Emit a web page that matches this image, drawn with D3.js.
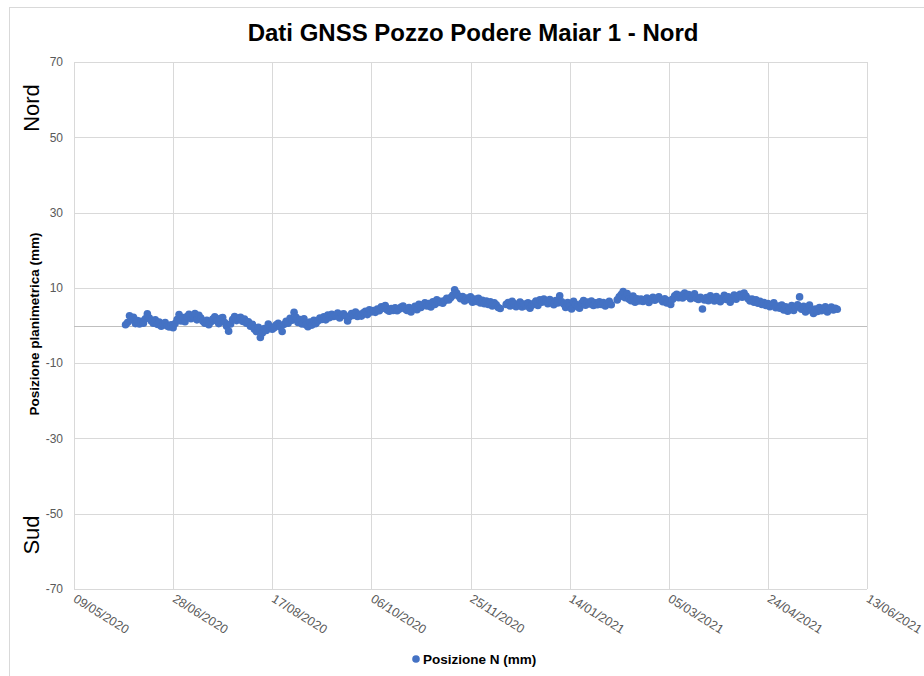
<!DOCTYPE html>
<html>
<head>
<meta charset="utf-8">
<script src="https://d3js.org/d3.v7.min.js"></script>
<style>
  body { margin: 0; background: #fff; }
  svg { font-family: "Liberation Sans", Arial, sans-serif; }
</style>
</head>
<body>
<svg id="chart" width="924" height="676"></svg>
<script>

// serie giornaliera, primo giorno = 04/06/2020 (null = nessun dato)
var startDate = "2020-06-04";
var posN = [
  0.2, 0.8, 2.6, 1.5, 2.2, 0.5, 1.3, 0.4, 1.1, 0.6,
  1.8, 3.1, 2.0, 1.2, 0.6, 1.5, 0.3, 0.9, -0.2, 0.4,
  0.8, -0.1, -0.4, 0.2, -0.6, 0.5, 1.6, 2.9, 1.2, 2.1,
  1.0, 2.4, 3.0, 1.8, 2.6, 3.2, 1.5, 2.7, 2.0, 1.1,
  0.6, 1.4, 0.2, 0.9, 1.7, 2.3, 1.2, 0.5, 1.9, 2.1,
  0.8, -0.2, -1.5, 0.4, 1.6, 2.4, 1.3, 2.0, 2.2, 1.1,
  1.7, 0.6, 1.0, -0.2, 0.3, -1.0, -1.6, -0.5, -3.2, -2.0,
  -0.8, -1.3, 0.4, -0.3, -1.0, -0.6, 0.2, 0.6, -0.4, -1.6,
  0.3, 1.1, 0.6, 1.9, 1.4, 3.5, 2.2, 0.8, 1.6, 0.4,
  1.8, 0.2, -0.3, 0.9, 0.1, 1.4, 0.5, 1.2, 2.0, 1.6,
  2.3, 1.5, 2.8, 2.1, 3.0, 2.4, 2.6, 3.3, 2.0, 2.9,
  3.1, 2.5, 1.2, 2.3, 3.2, 2.7, 3.6, 2.4, 3.0, 2.5,
  3.4, 3.8, 2.9, 4.2, 3.6, 4.0, 3.5, 4.4, 3.9, 5.0,
  4.6, 5.3, 4.1, 3.8, 4.5, 4.0, 4.7, 3.9, 4.3, 4.9,
  5.2, 4.4, 4.0, 4.8, 3.6, 4.5, 5.1, 4.2, 5.6, 4.8,
  5.4, 6.0, 5.2, 5.8, 4.9, 6.3, 5.6, 6.8, 6.1, 6.4,
  5.9, 6.6, 7.2, 6.8, 7.4, 8.0, 9.5, 8.6, 7.8, 7.1,
  7.7, 6.5, 7.3, 6.9, 7.6, 6.2, 7.0, 6.4, 7.2, 6.0,
  6.7, 5.8, 6.5, 5.6, 6.3, 5.2, 6.0, 5.5, 4.8, 4.5,
  null, null, 5.6, 6.1, 5.2, 6.4, 5.8, 5.0, 5.5, 6.2,
  4.9, 5.7, 5.2, 6.0, 4.6, 5.4, 5.9, 6.5, 5.3, 6.8,
  6.2, 7.0, 6.4, 5.8, 6.9, 6.1, 5.5, 6.6, 6.0, 7.9,
  6.3, 5.7, 4.8, 6.1, 5.2, 4.4, 6.4, 5.6, 5.0, 4.6,
  5.9, 6.6, 5.4, 6.2, 5.7, 6.5, 5.3, 6.0, 5.5, 6.3,
  5.6, 6.1, 5.2, 5.8, 6.4, 5.5, null, null, 6.8, 7.6,
  8.2, 9.0, 7.4, 8.5, 7.0, 6.6, 7.8, 6.2, 7.1, 6.5,
  7.0, 6.4, 6.9, 7.3, 6.1, 6.8, 7.5, 6.7, 7.2, 7.6,
  6.9, 6.3, 7.1, 6.0, 6.6, 5.6, 7.0, 7.9, 8.3, 7.4,
  8.0, 7.3, 8.6, 7.8, 8.2, 7.1, 7.6, 8.4, 7.2, 6.9,
  7.5, 4.4, 6.8, 7.4, 6.6, 7.9, 7.1, 6.5, 7.7, 7.0,
  6.3, 7.2, 8.0, 6.9, 7.6, 6.2, 7.4, 8.1, 7.0, 7.7,
  8.3, 7.5, 8.6, 7.8, 7.1, 6.5, 7.0, 6.2, 6.8, 5.9,
  6.4, 5.6, 6.1, 5.3, 5.8, 5.0, 5.5, 6.0, 4.7, 5.2,
  4.6, 5.4, 4.1, 5.0, 3.8, 4.5, 5.3, 4.0, 4.8, 5.5,
  7.6, 4.3, 5.1, 3.6, 4.6, 5.4, 4.0, 3.2, 4.4, 3.7,
  4.8, 3.9, 4.5, 5.0, 3.6, 4.3, 4.9, 4.1, 4.6, 4.3
];

var yTicks = [-70, -50, -30, -10, 10, 30, 50, 70];
var xStart = "2020-05-09";
var xEnd = "2021-06-13";
var xStepDays = 50;

var margin = {left: 74, right: 57, top: 62, bottom: 87};
var width = 924 - margin.left - margin.right;
var height = 676 - margin.top - margin.bottom;

var parse = d3.utcParse("%Y-%m-%d");
var fmt = d3.utcFormat("%d/%m/%Y");

var x = d3.scaleUtc()
  .domain([parse(xStart), parse(xEnd)])
  .range([0, width]);

var y = d3.scaleLinear()
  .domain([-70, 70])
  .range([height, 0]);

var xTicks = d3.utcDay.range(parse(xStart), d3.utcDay.offset(parse(xEnd), 1), xStepDays);

var data = posN.map(function(v, i) {
  return {date: d3.utcDay.offset(parse(startDate), i), value: v};
}).filter(function(d) { return d.value !== null; });

var svg = d3.select("#chart");

// cornice del grafico
svg.append("rect")
  .attr("x", 9.5)
  .attr("y", 7.5)
  .attr("width", 1000)
  .attr("height", 1000)
  .style("fill", "none")
  .style("stroke", "#d9d9d9");

svg.append("text")
  .attr("x", 473)
  .attr("y", 41)
  .style("text-anchor", "middle")
  .style("font-size", "24px")
  .style("font-weight", "bold")
  .style("fill", "#000")
  .text("Dati GNSS Pozzo Podere Maiar 1 - Nord");

var g = svg.append("g")
  .attr("transform", "translate(" + margin.left + "," + margin.top + ")");

// griglia orizzontale
g.append("g")
  .selectAll("line")
  .data(yTicks)
  .enter().append("line")
  .attr("x1", 0)
  .attr("x2", width)
  .attr("y1", function(d) { return Math.round(y(d)) + 0.5; })
  .attr("y2", function(d) { return Math.round(y(d)) + 0.5; })
  .style("stroke", "#d9d9d9");

// griglia verticale
g.append("g")
  .selectAll("line")
  .data(xTicks)
  .enter().append("line")
  .attr("x1", function(d) { return Math.round(x(d)) + 0.5; })
  .attr("x2", function(d) { return Math.round(x(d)) + 0.5; })
  .attr("y1", 0)
  .attr("y2", height)
  .style("stroke", "#d9d9d9");

// linea dello zero
g.append("line")
  .attr("x1", 0)
  .attr("x2", width)
  .attr("y1", Math.round(y(0)) + 0.5)
  .attr("y2", Math.round(y(0)) + 0.5)
  .style("stroke", "#bfbfbf");

var yAxis = d3.axisLeft(y)
  .tickValues(yTicks)
  .tickFormat(function(d) { return String(d); })
  .tickSize(0)
  .tickPadding(11);

g.append("g")
  .attr("class", "y axis")
  .call(yAxis)
  .call(function(s) { s.select(".domain").remove(); })
  .selectAll("text")
  .style("font-family", "Liberation Sans, Arial, sans-serif")
  .style("font-size", "12px")
  .style("fill", "#595959");

var xAxis = d3.axisBottom(x)
  .tickValues(xTicks)
  .tickFormat(fmt)
  .tickSize(0);

g.append("g")
  .attr("class", "x axis")
  .attr("transform", "translate(0," + height + ")")
  .call(xAxis)
  .call(function(s) { s.select(".domain").remove(); })
  .selectAll("text")
  .attr("y", 0)
  .attr("x", 0)
  .attr("dy", "0")
  .attr("transform", "translate(-2,12) rotate(32)")
  .style("text-anchor", "start")
  .style("font-family", "Liberation Sans, Arial, sans-serif")
  .style("font-size", "12.5px")
  .style("fill", "#595959");

g.append("g")
  .selectAll("circle")
  .data(data)
  .enter().append("circle")
  .attr("cx", function(d) { return x(d.date); })
  .attr("cy", function(d) { return y(d.value); })
  .attr("r", 3.8)
  .style("fill", "#4472c4");

// titoli asse y
svg.append("text")
  .attr("transform", "translate(39,324) rotate(-90)")
  .style("text-anchor", "middle")
  .style("font-size", "13.5px")
  .style("font-weight", "bold")
  .style("fill", "#000")
  .text("Posizione planimetrica (mm)");

svg.append("text")
  .attr("transform", "translate(39,108) rotate(-90)")
  .style("text-anchor", "middle")
  .style("font-size", "22px")
  .style("fill", "#000")
  .text("Nord");

svg.append("text")
  .attr("transform", "translate(39,535) rotate(-90)")
  .style("text-anchor", "middle")
  .style("font-size", "22px")
  .style("fill", "#000")
  .text("Sud");

// legenda
var legend = svg.append("g")
  .attr("transform", "translate(416,659)");

legend.append("circle")
  .attr("r", 3.8)
  .style("fill", "#4472c4");

legend.append("text")
  .attr("x", 7)
  .attr("dy", "0.35em")
  .style("font-size", "13.5px")
  .style("font-weight", "bold")
  .style("fill", "#000")
  .text("Posizione N (mm)");

</script>
</body>
</html>
